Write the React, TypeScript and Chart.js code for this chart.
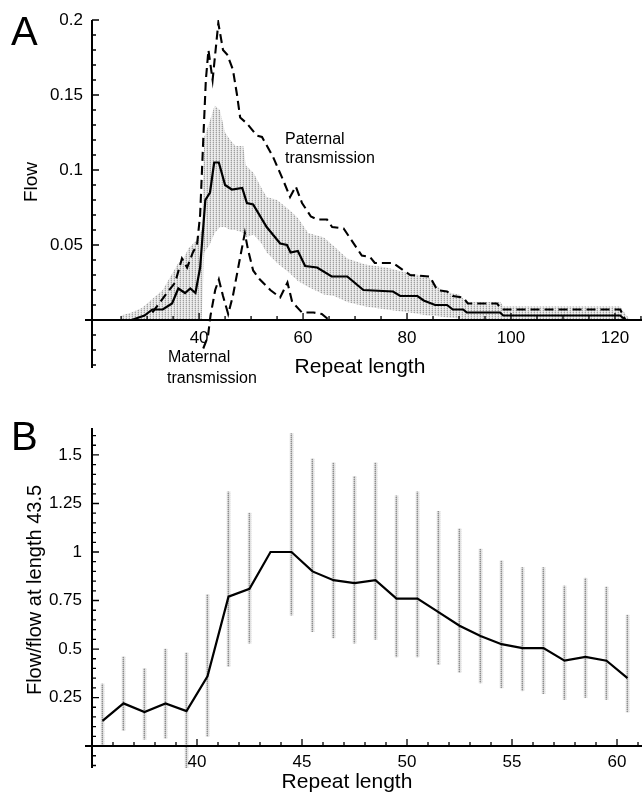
import React, { useEffect, useRef } from 'react';
import { Chart, registerables } from 'chart.js';
Chart.register(...registerables);

const FONT = '"Liberation Sans", Arial, Helvetica, sans-serif';

// ---------- Panel A data ----------
const ciX = [25, 27, 29, 31, 33, 35, 36, 37, 38, 39.5, 40.5, 41, 42, 43, 44, 45, 46, 47, 48.5, 49, 50.5, 52, 53, 55, 57.5, 59, 61, 64, 66, 68.5, 72, 76, 80.5, 84, 85, 87, 90, 91.5, 98, 98.5, 121, 122, 123];
const ciUpper = [0.003, 0.005, 0.008, 0.014, 0.02, 0.032, 0.038, 0.041, 0.048, 0.053, 0.06, 0.122, 0.132, 0.143, 0.14, 0.125, 0.12, 0.116, 0.116, 0.103, 0.098, 0.088, 0.082, 0.08, 0.073, 0.068, 0.058, 0.055, 0.049, 0.041, 0.037, 0.035, 0.031, 0.029, 0.025, 0.019, 0.017, 0.012, 0.012, 0.009, 0.009, 0.004, 0];
const ciLower = [0, 0, 0, 0, 0, 0, 0, 0, 0, 0, 0, 0.045, 0.05, 0.058, 0.062, 0.062, 0.06, 0.06, 0.058, 0.055, 0.057, 0.051, 0.045, 0.038, 0.031, 0.026, 0.022, 0.017, 0.016, 0.012, 0.009, 0.007, 0.005, 0.003, 0.003, 0.002, 0.001, 0, 0, 0, 0, 0, 0];

const meanX = [19.4, 27, 29.5, 31, 33, 34.8, 36, 37.3, 38.3, 39.3, 40.2, 41.2, 42.1, 42.9, 43.8, 45, 46.3, 48.3, 49.2, 50.4, 53, 55.6, 56.9, 57.6, 59, 60.4, 62.7, 65.5, 68.5, 71.6, 77.3, 78.7, 82, 83.2, 85.4, 87.7, 88.8, 90.8, 91.5, 97.9, 98.5, 121, 122, 125.2];
const meanY = [0, 0, 0.003, 0.007, 0.007, 0.011, 0.021, 0.018, 0.021, 0.018, 0.035, 0.08, 0.085, 0.105, 0.105, 0.09, 0.087, 0.088, 0.078, 0.077, 0.062, 0.051, 0.05, 0.045, 0.046, 0.036, 0.035, 0.029, 0.029, 0.02, 0.019, 0.016, 0.016, 0.013, 0.01, 0.01, 0.007, 0.007, 0.005, 0.005, 0.003, 0.003, 0, 0];

const patX = [31, 33.8, 35.4, 36.7, 37.7, 38.8, 39.6, 40.2, 40.8, 41.3, 41.8, 42.6, 43.7, 44.6, 45.4, 46.5, 47.3, 47.9, 49.2, 51.1, 52.1, 54.2, 56.2, 57.5, 58.6, 59.8, 61.5, 62.7, 64.6, 65.6, 67.8, 71.3, 72.9, 73.8, 77.3, 80.6, 84.4, 85.8, 87.7, 88.8, 90.8, 91.7, 97.3, 98.3, 121, 121.6, 122];
const patY = [0.005, 0.018, 0.025, 0.041, 0.035, 0.045, 0.05, 0.07, 0.12, 0.16, 0.18, 0.16, 0.198, 0.18, 0.177, 0.167, 0.15, 0.135, 0.131, 0.123, 0.122, 0.109, 0.093, 0.082, 0.089, 0.078, 0.069, 0.067, 0.067, 0.062, 0.061, 0.043, 0.042, 0.038, 0.038, 0.03, 0.029, 0.02, 0.019, 0.016, 0.015, 0.011, 0.011, 0.007, 0.007, 0.003, 0];

const matX = [40.8, 41.7, 42.2, 43.1, 43.8, 44.6, 45.6, 46.5, 47.8, 48.8, 49.4, 50.4, 51.7, 53.7, 55.6, 57, 57.9, 59.8, 62, 63.6, 65];
const matY = [-0.019, -0.011, 0.003, 0.02, 0.027, 0.016, 0.004, 0.016, 0.04, 0.058, 0.047, 0.033, 0.027, 0.02, 0.015, 0.025, 0.012, 0.005, 0.005, 0.004, 0];

const aXTicks = [40, 60, 80, 100, 120];
const aXTickLabels = ['40', '60', '80', '100', '120'];
const aYTicks = [0.05, 0.1, 0.15, 0.2];
const aYTickLabels = ['0.05', '0.1', '0.15', '0.2'];

// ---------- Panel B data ----------
const bX = [35.5, 36.5, 37.5, 38.5, 39.5, 40.5, 41.5, 42.5, 43.5, 44.5, 45.5, 46.5, 47.5, 48.5, 49.5, 50.5, 51.5, 52.5, 53.5, 54.5, 55.5, 56.5, 57.5, 58.5, 59.5, 60.5];
const bMean = [0.13, 0.22, 0.175, 0.22, 0.18, 0.36, 0.77, 0.81, 1.0, 1.0, 0.9, 0.855, 0.84, 0.855, 0.76, 0.76, 0.69, 0.62, 0.567, 0.525, 0.505, 0.505, 0.44, 0.46, 0.44, 0.35];
const bLow = [0, 0.08, 0.035, 0.04, -0.12, 0.05, 0.41, 0.53, null, 0.675, 0.59, 0.557, 0.53, 0.55, 0.46, 0.46, 0.42, 0.38, 0.325, 0.3, 0.285, 0.27, 0.24, 0.25, 0.24, 0.175];
const bHigh = [0.32, 0.46, 0.4, 0.5, 0.48, 0.78, 1.31, 1.2, null, 1.61, 1.48, 1.46, 1.39, 1.46, 1.29, 1.31, 1.21, 1.12, 1.015, 0.955, 0.92, 0.92, 0.825, 0.865, 0.82, 0.675];

const bXTicks = [40, 45, 50, 55, 60];
const bXTickLabels = ['40', '45', '50', '55', '60'];
const bYTicks = [0.25, 0.5, 0.75, 1, 1.25, 1.5];
const bYTickLabels = ['0.25', '0.5', '0.75', '1', '1.25', '1.5'];

type TextItem = { t: string; x: number; y: number; size: number; rot?: boolean; align?: CanvasTextAlign; base?: CanvasTextBaseline };
type AxesCfg = {
  xTicks: number[]; xTickLabels: string[]; xMinorFrom: number; xMinorTo: number; xMinorStep: number;
  yTicks: number[]; yTickLabels: string[]; yMinorFrom: number; yMinorTo: number; yMinorStep: number;
  xLabelOffset: number; yLabelGap: number; tickFont: number; texts: TextItem[];
};

function axesPlugin(id: string, cfg: AxesCfg) {
  return {
    id,
    afterDatasetsDraw(chart: any) {
      const ctx: CanvasRenderingContext2D = chart.ctx;
      const xs = chart.scales.x;
      const ys = chart.scales.y;
      const ca = chart.chartArea;
      const y0 = ys.getPixelForValue(0);
      const isMajor = (list: number[], v: number) => list.some((m) => Math.abs(m - v) < 1e-6);
      ctx.save();
      ctx.strokeStyle = '#000';
      ctx.fillStyle = '#000';
      ctx.lineWidth = 2;
      ctx.beginPath();
      ctx.moveTo(ca.left, ca.top);
      ctx.lineTo(ca.left, ca.bottom);
      ctx.moveTo(ca.left - 7, y0);
      ctx.lineTo(ca.right, y0);
      ctx.stroke();
      ctx.lineWidth = 1.3;
      ctx.beginPath();
      const nY = Math.round((cfg.yMinorTo - cfg.yMinorFrom) / cfg.yMinorStep);
      for (let k = 0; k <= nY; k++) {
        const v = +(cfg.yMinorFrom + k * cfg.yMinorStep).toFixed(6);
        if (Math.abs(v) < 1e-9) continue;
        const p = ys.getPixelForValue(v);
        const len = isMajor(cfg.yTicks, v) ? 7 : 4;
        ctx.moveTo(ca.left, p);
        ctx.lineTo(ca.left + len, p);
      }
      const nX = Math.round((cfg.xMinorTo - cfg.xMinorFrom) / cfg.xMinorStep);
      for (let k = 0; k <= nX; k++) {
        const v = +(cfg.xMinorFrom + k * cfg.xMinorStep).toFixed(6);
        const p = xs.getPixelForValue(v);
        const len = isMajor(cfg.xTicks, v) ? 7 : 4;
        ctx.moveTo(p, y0);
        ctx.lineTo(p, y0 - len);
      }
      ctx.stroke();
      ctx.font = `${cfg.tickFont}px ${FONT}`;
      ctx.textAlign = 'right';
      ctx.textBaseline = 'middle';
      cfg.yTicks.forEach((v, i) => {
        ctx.fillText(cfg.yTickLabels[i], ca.left - cfg.yLabelGap, ys.getPixelForValue(v));
      });
      ctx.textAlign = 'center';
      cfg.xTicks.forEach((v, i) => {
        ctx.fillText(cfg.xTickLabels[i], xs.getPixelForValue(v), y0 + cfg.xLabelOffset);
      });
      cfg.texts.forEach((t) => {
        ctx.save();
        ctx.font = `${t.size}px ${FONT}`;
        ctx.textAlign = t.align || 'left';
        ctx.textBaseline = t.base || 'alphabetic';
        ctx.translate(t.x, t.y);
        if (t.rot) ctx.rotate(-Math.PI / 2);
        ctx.fillText(t.t, 0, 0);
        ctx.restore();
      });
      ctx.restore();
    },
  };
}

function stipple(dark: string, light: string, bg: string) {
  const c = document.createElement('canvas');
  c.width = 3;
  c.height = 2;
  const g = c.getContext('2d')!;
  g.fillStyle = bg;
  g.fillRect(0, 0, 3, 2);
  g.fillStyle = dark;
  g.fillRect(0, 0, 1, 1);
  g.fillStyle = light;
  g.fillRect(0, 1, 1, 1);
  g.fillRect(2, 0, 1, 1);
  return g.createPattern(c, 'repeat')!;
}

const pts = (xs: number[], ys: number[]) => xs.map((x, i) => ({ x, y: ys[i] }));

export default function App() {
  const refA = useRef<HTMLCanvasElement>(null);
  const refB = useRef<HTMLCanvasElement>(null);

  useEffect(() => {
    const patA = stipple('#a0a0a0', '#d2d2d2', '#ececec');
    const patB = stipple('#8e8e8e', '#c4c4c4', '#e2e2e2');

    const chartA = new Chart(refA.current!, {
      type: 'line',
      data: {
        datasets: [
          { data: pts(meanX, meanY), borderColor: '#000', borderWidth: 2.2, pointRadius: 0, tension: 0, fill: false },
          { data: pts(patX, patY), borderColor: '#000', borderWidth: 2.1, borderDash: [9, 5], pointRadius: 0, tension: 0, fill: false },
          { data: pts(matX, matY), borderColor: '#000', borderWidth: 2.1, borderDash: [9, 5], pointRadius: 0, tension: 0, fill: false },
          { data: pts(ciX, ciUpper), borderColor: 'rgba(0,0,0,0)', borderWidth: 1, pointRadius: 0, tension: 0, fill: 4, backgroundColor: patA },
          { data: pts(ciX, ciLower), borderColor: 'rgba(0,0,0,0)', borderWidth: 1, pointRadius: 0, tension: 0, fill: false },
        ],
      },
      options: {
        animation: false,
        responsive: false,
        events: [],
        layout: { padding: { left: 92, right: 1, top: 20, bottom: 27 } },
        plugins: { legend: { display: false }, tooltip: { enabled: false } },
        scales: {
          x: { type: 'linear', min: 19.4, max: 125.2, display: false, offset: false },
          y: { type: 'linear', min: -0.032, max: 0.2, display: false },
        },
      },
      plugins: [
        axesPlugin('axesA', {
          xTicks: aXTicks, xTickLabels: aXTickLabels, xMinorFrom: 25, xMinorTo: 125, xMinorStep: 5,
          yTicks: aYTicks, yTickLabels: aYTickLabels, yMinorFrom: -0.03, yMinorTo: 0.2, yMinorStep: 0.01,
          xLabelOffset: 18, yLabelGap: 9, tickFont: 17,
          texts: [
            { t: 'A', x: 11, y: 45, size: 40 },
            { t: 'Flow', x: 37, y: 182, size: 19, rot: true, align: 'center' },
            { t: 'Repeat length', x: 360, y: 373, size: 21, align: 'center' },
            { t: 'Paternal', x: 285, y: 140, size: 16, base: 'middle' },
            { t: 'transmission', x: 285, y: 159, size: 16, base: 'middle' },
            { t: 'Maternal', x: 168, y: 358, size: 16, base: 'middle' },
            { t: 'transmission', x: 167, y: 379, size: 16, base: 'middle' },
          ],
        }),
      ],
    } as any);

    const chartB = new Chart(refB.current!, {
      type: 'line',
      data: {
        datasets: [
          { type: 'line', data: pts(bX, bMean), borderColor: '#000', borderWidth: 2.2, pointRadius: 0, tension: 0, fill: false },
          {
            type: 'bar',
            data: bX.filter((_, i) => bHigh[i] !== null).map((x) => {
              const i = bX.indexOf(x);
              return { x, y: [bLow[i], bHigh[i]] };
            }),
            backgroundColor: patB,
            borderWidth: 0,
            barThickness: 3,
          },
        ],
      },
      options: {
        animation: false,
        responsive: false,
        events: [],
        layout: { padding: { left: 92, right: 1, top: 33, bottom: 27 } },
        plugins: { legend: { display: false }, tooltip: { enabled: false } },
        scales: {
          x: { type: 'linear', min: 35, max: 61.19, display: false, offset: false },
          y: { type: 'linear', min: -0.113, max: 1.639, display: false },
        },
      },
      plugins: [
        axesPlugin('axesB', {
          xTicks: bXTicks, xTickLabels: bXTickLabels, xMinorFrom: 36, xMinorTo: 61, xMinorStep: 1,
          yTicks: bYTicks, yTickLabels: bYTickLabels, yMinorFrom: -0.1, yMinorTo: 1.6, yMinorStep: 0.05,
          xLabelOffset: 16, yLabelGap: 10, tickFont: 17,
          texts: [
            { t: 'B', x: 11, y: 55, size: 40 },
            { t: 'Flow/flow at length 43.5', x: 41, y: 195, size: 20, rot: true, align: 'center' },
            { t: 'Repeat length', x: 347, y: 393, size: 21, align: 'center' },
          ],
        }),
      ],
    } as any);

    return () => {
      chartA.destroy();
      chartB.destroy();
    };
  }, []);

  return (
    <div style={{ position: 'absolute', left: 0, top: 0, width: 643, height: 795, background: '#fff' }}>
      <canvas ref={refA} width={643} height={395} style={{ position: 'absolute', left: 0, top: 0, display: 'block' }} />
      <canvas ref={refB} width={643} height={400} style={{ position: 'absolute', left: 0, top: 395, display: 'block' }} />
    </div>
  );
}
